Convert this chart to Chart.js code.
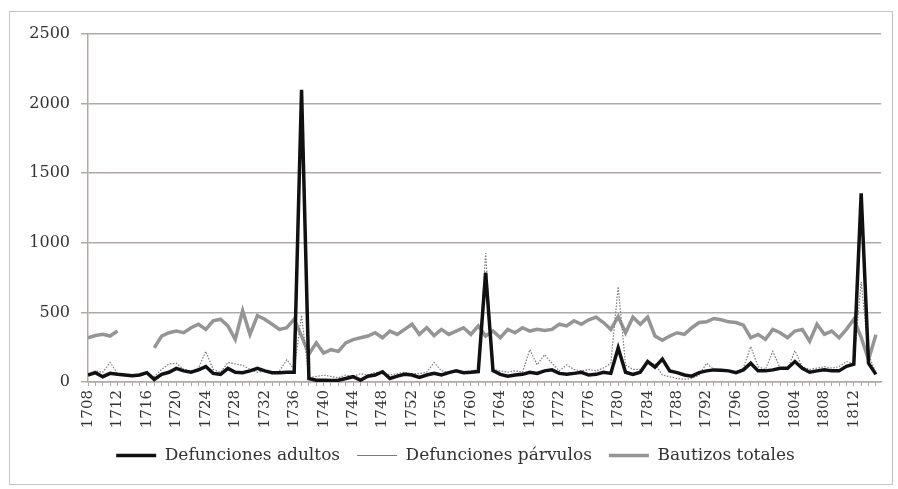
<!DOCTYPE html>
<html>
<head>
<meta charset="utf-8">
<script src="https://cdn.jsdelivr.net/npm/chart.js@4"></script>
<style>
  html, body { margin: 0; padding: 0; background: #fff; }
  #wrap { position: relative; width: 898px; height: 489px; }
  #frame { position: absolute; left: 9px; top: 11px; width: 884px; height: 474px; border: 1px solid #c4c4c4; box-sizing: border-box; }
  canvas { position: absolute; left: 0; top: 0; }
</style>
</head>
<body>
<div id="wrap">
  <div id="frame"></div>
  <canvas id="chart" width="898" height="489"></canvas>
</div>
<script>
// Years 1708 - 1815
const firstYear = 1708;
const lastYear = 1815;

// Defunciones adultos
const adultos = [
    50, 67, 38, 62, 55, 50, 45, 50, 67, 18,      // 1708-1717
    55, 70, 98, 80, 70, 87, 111, 62, 55, 98,     // 1718-1727
    70, 67, 80, 98, 80, 67, 67, 70, 70, 2100,    // 1728-1737
    25, 13, 13, 10, 13, 25, 38, 13, 42, 50,      // 1738-1747
    74, 25, 42, 55, 50, 33, 50, 62, 50, 67,      // 1748-1757
    80, 67, 70, 75, 785, 82, 55, 42, 50, 55,     // 1758-1767
    70, 62, 80, 87, 62, 55, 62, 70, 50, 55,      // 1768-1777
    70, 62, 245, 70, 55, 70, 147, 106, 164, 80,  // 1778-1787
    67, 50, 42, 67, 80, 87, 84, 80, 67, 87,      // 1788-1797
    135, 80, 80, 87, 98, 98, 147, 98, 70, 80,    // 1798-1807
    87, 80, 80, 113, 128, 1355, 135, 55          // 1808-1815
];

// Defunciones párvulos
const parvulos = [
    60, 80, 70, 140, 60, 50, 40, 45, 60, 40,
    90, 130, 135, 90, 80, 100, 220, 90, 70, 140,
    130, 120, 90, 70, 80, 60, 80, 160, 90, 480,
    30, 40, 50, 40, 30, 50, 40, 60, 50, 70,
    60, 50, 60, 70, 60, 60, 70, 140, 80, 70,
    80, 70, 80, 90, 925, 90, 80, 70, 80, 70,
    232, 123, 196, 135, 80, 123, 90, 80, 90, 80,
    100, 135, 685, 123, 90, 90, 135, 130, 50, 38,
    25, 20, 25, 50, 135, 90, 80, 80, 70, 100,
    255, 110, 90, 220, 100, 90, 225, 110, 90, 100,
    110, 100, 110, 147, 130, 720, 200, 60
];

// Bautizos totales (no data 1713-1716)
const bautizos = [
    317, 334, 342, 330, 366, null, null, null, null, 245,
    330, 354, 366, 354, 390, 415, 378, 440, 451, 403,
    305, 512, 342, 476, 451, 415, 378, 390, 451, 330,
    200, 281, 208, 232, 220, 281, 305, 318, 330, 354,
    318, 366, 342, 378, 415, 342, 390, 334, 378, 342,
    366, 390, 342, 403, 330, 366, 318, 378, 354, 390,
    366, 378, 370, 378, 415, 403, 440, 415, 447, 466,
    427, 378, 470, 354, 466, 415, 466, 330, 300, 330,
    354, 342, 390, 427, 432, 456, 447, 432, 427, 408,
    318, 342, 306, 378, 354, 318, 366, 378, 293, 415,
    342, 366, 318, 378, 451, 320, 160, 340
];

const yTicks = [0, 500, 1000, 1500, 2000, 2500];

const years = [];
for (let y = firstYear; y <= lastYear; y++) years.push(y);

const toPoints = vals => years.map((yr, i) => ({ x: yr, y: vals[i] }));

const serif = "'DejaVu Serif', 'Liberation Serif', serif";
const gridColor = '#b0aaa6';

new Chart(document.getElementById('chart'), {
    type: 'line',
    data: {
        datasets: [
            {
                label: 'Defunciones adultos',
                data: toPoints(adultos),
                borderColor: '#111111',
                borderWidth: 3.5,
                pointRadius: 0,
                tension: 0
            },
            {
                label: 'Defunciones párvulos',
                data: toPoints(parvulos),
                borderColor: '#7a7a7a',
                borderWidth: 1.2,
                borderDash: [1.5, 1.5],
                pointRadius: 0,
                tension: 0
            },
            {
                label: 'Bautizos totales',
                data: toPoints(bautizos),
                borderColor: '#959595',
                borderWidth: 3.5,
                pointRadius: 0,
                tension: 0,
                spanGaps: false
            }
        ]
    },
    options: {
        responsive: false,
        animation: false,
        layout: { padding: { left: 28, right: 15, top: 34, bottom: 15 } },
        plugins: {
            tooltip: { enabled: false },
            legend: {
                position: 'bottom',
                labels: {
                    usePointStyle: true,
                    pointStyle: 'line',
                    pointStyleWidth: 40,
                    padding: 17,
                    color: '#333',
                    font: { family: serif, size: 17 },
                    generateLabels: chart => {
                        const items = Chart.defaults.plugins.legend.labels.generateLabels(chart);
                        items.forEach(it => { it.lineDash = []; it.pointStyle = 'line'; });
                        return items;
                    }
                }
            }
        },
        scales: {
            x: {
                type: 'linear',
                min: firstYear,
                max: lastYear + 0.7,
                afterFit: s => { s.height = 48; },
                border: { color: gridColor, width: 1.5 },
                grid: { drawOnChartArea: false, color: gridColor, tickLength: 4 },
                ticks: {
                    stepSize: 1,
                    autoSkip: false,
                    includeBounds: false,
                    minRotation: 90,
                    maxRotation: 90,
                    padding: 4,
                    color: '#333',
                    font: { family: serif, size: 15 },
                    callback: v => (Number.isInteger(v) && v % 4 === 0) ? String(v) : ''
                }
            },
            y: {
                min: 0,
                max: 2500,
                afterFit: s => { s.width = 60; },
                afterBuildTicks: s => { s.ticks = yTicks.map(v => ({ value: v })); },
                border: { color: gridColor, width: 1.5 },
                grid: { color: gridColor, lineWidth: 1.5, tickLength: 7 },
                ticks: {
                    padding: 11,
                    color: '#333',
                    font: { family: serif, size: 16 },
                    callback: v => String(v)
                }
            }
        }
    }
});
</script>
</body>
</html>
